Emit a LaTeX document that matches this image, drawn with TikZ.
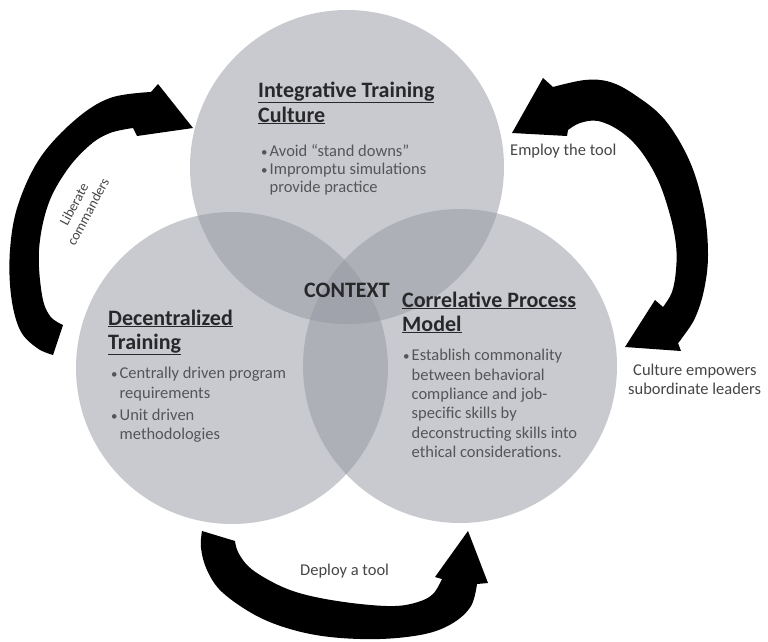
\documentclass[tikz,border=0pt]{standalone}
\usepackage{fontspec}
\setmainfont{Carlito}
\definecolor{vennfill}{RGB}{148,151,160}
\definecolor{headc}{RGB}{40,40,42}
\definecolor{bodyc}{RGB}{85,85,88}
\definecolor{labelc}{RGB}{70,70,72}
\newcommand{\bul}{\makebox[8.5pt][l]{\fontsize{13}{19}\selectfont•}}
\begin{document}
\begin{tikzpicture}[x=1pt,y=-1pt,
  venn/.style={fill=vennfill,fill opacity=0.5},
  heading/.style={anchor=base west,inner sep=0pt,text height=15pt,text depth=4pt,text=headc,font=\fontsize{22}{25}\selectfont\bfseries},
  body/.style={anchor=base west,inner sep=0pt,text height=11.5pt,text depth=3pt,text=bodyc,font=\fontsize{16.5}{19.5}\selectfont},
  lbl/.style={anchor=base west,inner sep=0pt,text height=11.5pt,text depth=3pt,text=labelc,font=\fontsize{16.5}{19.5}\selectfont},
  blockarrow/.style={fill=black}]
\useasboundingbox[fill=white] (0,0) rectangle (768,642);

% the three overlapping circles
\fill[venn] (347,167) circle[radius=157];
\fill[venn] (232,368) circle[radius=156];
\fill[venn] (460,366) circle[radius=157];

% left curved arrow: up towards the top circle
\fill[blockarrow] plot[smooth,tension=0.6] coordinates {(53,355) (37,348) (20,330) (11,295) (10,250) (18,205) (40,158) (75,120) (110,98) (151,92)}
  -- (158,84) -- (193,128) -- (137,136) -- (133,128)
  -- plot[smooth,tension=0.6] coordinates {(133,128) (110,133) (90,145) (67,170) (48,205) (39,250) (42,295) (50,316) (63,325)}
  -- cycle;

% right curved arrow with a head at each end
\fill[blockarrow] (567,136) -- (512,133) -- (543,78) -- (553,87)
  -- plot[smooth,tension=0.6] coordinates {(553,87) (585,80) (610,82) (635,95) (665,120) (690,162) (704,210) (708,255) (704,290) (695,318) (682,338) (678,343)}
  -- (681,351) -- (625,347) -- (655,300) -- (663,307)
  -- plot[smooth,tension=0.6] coordinates {(663,307) (672,292) (676,270) (676,245) (670,215) (658,180) (640,150) (620,131) (598,121) (580,123) (568,130)}
  -- cycle;

% bottom curved arrow: towards the right circle
\fill[blockarrow] (235,541) -- (202,531)
  -- plot[smooth,tension=0.6] coordinates {(202,531) (201,548) (207,570) (222,592) (255,615) (290,629) (330,637) (380,639) (425,634) (453,623) (471,606) (477,584)}
  -- (488,583) -- (468,531) -- (435,577) -- (442,579)
  -- plot[smooth,tension=0.6] coordinates {(442,579) (433,594) (418,602) (395,606) (360,604) (320,598) (290,590) (265,578) (248,566) (238,552) (235,541)}
  -- cycle;

% top circle text
\node[heading] (itc1) at (258,97) {\underline{Integrative Training}};
\node[heading] (itc2) at (258,122) {\underline{Culture}};
\node[body] (itct1) at (261,156) {\bul Avoid ``stand downs''};
\node[body] (itct2) at (261,174) {\bul Impromptu simulations};
\node[body] (itct3) at (269.5,192) {provide practice};

% left circle text
\node[heading] (dt1) at (108,325) {\underline{Decentralized}};
\node[heading] (dt2) at (108,349) {\underline{Training}};
\node[body] (dtt1) at (111,378) {\bul Centrally driven program};
\node[body] (dtt2) at (119.5,398) {requirements};
\node[body] (dtt3) at (111,420) {\bul Unit driven};
\node[body] (dtt4) at (119.5,439) {methodologies};

% right circle text
\node[heading] (cpm1) at (402,307) {\underline{Correlative Process}};
\node[heading] (cpm2) at (402,331) {\underline{Model}};
\node[body] (cpmt1) at (403,360) {\bul Establish commonality};
\node[body] (cpmt2) at (411.5,380) {between behavioral};
\node[body] (cpmt3) at (411.5,399) {compliance and job-};
\node[body] (cpmt4) at (411.5,418) {specific skills by};
\node[body] (cpmt5) at (411.5,438) {deconstructing skills into};
\node[body] (cpmt6) at (411.5,457) {ethical considerations.};

% centre of the diagram
\node[heading] (ctx) at (304,297) {CONTEXT};

% arrow labels
\node[lbl] (employ) at (510,155) {Employ the tool};
\node[lbl] (cult1) at (633,375) {Culture empowers};
\node[lbl] (cult2) at (628,394) {subordinate leaders};
\node[lbl] (deploy) at (300,575) {Deploy a tool};
\node[text=labelc,font=\fontsize{14}{16}\selectfont,rotate=62,align=center,inner sep=0pt] (liberate) at (81,208) {Liberate\\commanders};
\end{tikzpicture}
\end{document}
